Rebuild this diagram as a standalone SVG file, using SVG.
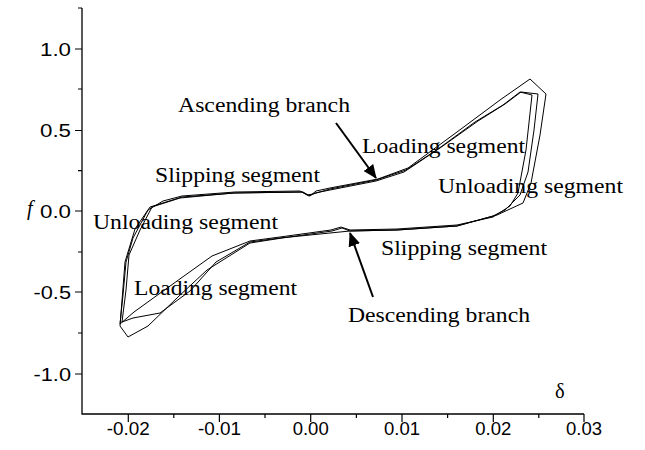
<svg xmlns="http://www.w3.org/2000/svg" width="645" height="450" viewBox="0 0 645 450">
<defs>
<style>
.ax{stroke:#000;stroke-width:1.3;fill:none}
.tk{stroke:#000;stroke-width:1.2;fill:none}
.tl{font-family:"Liberation Sans",Arial,sans-serif;font-size:18px;fill:#000}
.lb{font-family:"Liberation Serif","Times New Roman",serif;font-size:20.5px;fill:#000}
.cv{stroke:#000;stroke-width:1;fill:none;stroke-linejoin:round}
.ar{stroke:#000;stroke-width:2;fill:none}
</style>
<marker id="ah" viewBox="0 0 14 12" refX="13" refY="6" markerWidth="14" markerHeight="12" markerUnits="userSpaceOnUse" orient="auto">
<path d="M0,0 L14,6 L0,12 Z" fill="#000"/>
</marker>
</defs>
<rect width="645" height="450" fill="#fff"/>
<g id="axes">
<path class="ax" d="M82,8 V414 H584"/>
<path class="tk" d="M75,49H82M75,130.5H82M75,211H82M75,292H82M75,374H82M78,8H82M78,89H82M78,170.7H82M78,252H82M78,333H82"/>
<path class="tk" d="M128.3,414v8M219.4,414v8M310.7,414v8M402,414v8M493.3,414v8M584,414v8M173.8,414v4M265,414v4M356.4,414v4M447.6,414v4M538.8,414v4"/>
<text class="tl" x="71" y="55.5" text-anchor="end" textLength="31" lengthAdjust="spacingAndGlyphs">1.0</text>
<text class="tl" x="71" y="137" text-anchor="end" textLength="31" lengthAdjust="spacingAndGlyphs">0.5</text>
<text class="tl" x="71" y="217.5" text-anchor="end" textLength="31" lengthAdjust="spacingAndGlyphs">0.0</text>
<text class="tl" x="71" y="298.5" text-anchor="end" textLength="37.5" lengthAdjust="spacingAndGlyphs">-0.5</text>
<text class="tl" x="71" y="380.5" text-anchor="end" textLength="37.5" lengthAdjust="spacingAndGlyphs">-1.0</text>
<text class="tl" x="128.3" y="435" text-anchor="middle" textLength="43" lengthAdjust="spacingAndGlyphs">-0.02</text>
<text class="tl" x="219.4" y="435" text-anchor="middle" textLength="43" lengthAdjust="spacingAndGlyphs">-0.01</text>
<text class="tl" x="310.7" y="435" text-anchor="middle" textLength="36" lengthAdjust="spacingAndGlyphs">0.00</text>
<text class="tl" x="402" y="435" text-anchor="middle" textLength="36" lengthAdjust="spacingAndGlyphs">0.01</text>
<text class="tl" x="493.3" y="435" text-anchor="middle" textLength="36" lengthAdjust="spacingAndGlyphs">0.02</text>
<text class="tl" x="584" y="435" text-anchor="middle" textLength="36" lengthAdjust="spacingAndGlyphs">0.03</text>
<text class="lb" x="27" y="215" font-style="italic" font-size="26">f</text>
<text class="lb" x="555" y="398">δ</text>
</g>
<g id="curves">
<path class="cv" d="M120,324 L123,295 L126,262 L133,238 L148,210 L163,201 L182,196 L235,192 L300,191 L307,195 L313,194 L330,189 L376,180 L406,170 L438,149 L475,122 L503,105 L520,92 L532,95 L526,150 L518,193 L510,206 L493,217 L457,225 L397,229 L350,230 L341,227 L331,230 L280,237 L250,241 L212,256 L184,276 L152,299 L134,312 Z"/>
<path class="cv" d="M120,326 L128,337 L148,326 L178,297 L207,270 L250,243 L282,238 L332,231 L342,228 L350,231 L397,230 L457,226 L497,215 L523,203 L531,183 L540,135 L546,94 L530,79 L500,100 L457,132 L408,168 L378,179 L330,188 L316,191 L310,196 L303,192 L235,193 L182,197 L150,207 L135,229 L125,262 Z"/>
<path class="cv" d="M122,322 L126,290 L129,255 L140,230 L152,207 L180,198 L233,193 L302,192 L309,196 L315,193 L330,190 L376,181 L404,172 L440,148 L478,121 L505,104 L521,92 L538,94 L534,130 L528,172 L520,195 L505,210 L493,216 L457,226 L397,230 L350,231 L280,238 L250,242 L216,262 L190,291 L160,313 L133,318 Z"/>
</g>
<g id="arrows">
<line class="ar" x1="336" y1="123" x2="376" y2="178" marker-end="url(#ah)"/>
<line class="ar" x1="373" y1="297" x2="350" y2="233" marker-end="url(#ah)"/>
</g>
<g id="labels">
<text class="lb" x="178" y="112" textLength="172" lengthAdjust="spacingAndGlyphs">Ascending branch</text>
<text class="lb" x="362" y="153" textLength="163" lengthAdjust="spacingAndGlyphs">Loading segment</text>
<text class="lb" x="155" y="182" textLength="165" lengthAdjust="spacingAndGlyphs">Slipping segment</text>
<text class="lb" x="438" y="193" textLength="185" lengthAdjust="spacingAndGlyphs">Unloading segment</text>
<text class="lb" x="93" y="229" textLength="185" lengthAdjust="spacingAndGlyphs">Unloading segment</text>
<text class="lb" x="381" y="255" textLength="166" lengthAdjust="spacingAndGlyphs">Slipping segment</text>
<text class="lb" x="134" y="295" textLength="163" lengthAdjust="spacingAndGlyphs">Loading segment</text>
<text class="lb" x="348" y="322" textLength="182" lengthAdjust="spacingAndGlyphs">Descending branch</text>
</g>
</svg>
